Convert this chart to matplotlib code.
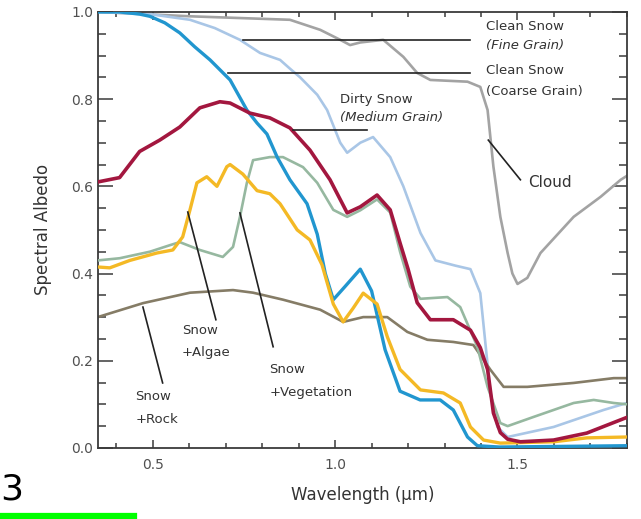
import matplotlib
matplotlib.use("Agg")
import matplotlib.pyplot as plt
from matplotlib.ticker import MultipleLocator

# Spectral albedo curves (wavelength in µm, albedo 0-1)
wl_cloud = [0.349, 0.602, 0.739, 0.876, 0.959, 1.014, 1.041, 1.069, 1.132, 1.187, 1.225, 1.261,
            1.363, 1.398, 1.418, 1.434, 1.453, 1.473, 1.486, 1.50, 1.527, 1.563, 1.654, 1.728, 1.783, 1.80]
alb_cloud = [1.0, 0.99, 0.986, 0.982, 0.959, 0.936, 0.924, 0.93, 0.936, 0.897, 0.86, 0.844,
             0.84, 0.828, 0.775, 0.645, 0.53, 0.447, 0.40, 0.376, 0.39, 0.447, 0.53, 0.576, 0.615, 0.624]

wl_fine = [0.349, 0.492, 0.602, 0.67, 0.739, 0.794, 0.849, 0.876, 0.904, 0.951, 0.978, 1.014,
           1.033, 1.069, 1.104, 1.151, 1.187, 1.234, 1.275, 1.33, 1.371, 1.398, 1.412, 1.426,
           1.445, 1.473, 1.599, 1.736, 1.80]
alb_fine = [1.0, 0.995, 0.982, 0.963, 0.936, 0.906, 0.89, 0.87, 0.85, 0.81, 0.775, 0.70,
            0.677, 0.70, 0.713, 0.667, 0.60, 0.493, 0.43, 0.418, 0.41, 0.355, 0.24, 0.126,
            0.048, 0.025, 0.048, 0.087, 0.103]

wl_coarse = [0.349, 0.409, 0.464, 0.492, 0.533, 0.574, 0.615, 0.657, 0.712, 0.758, 0.786, 0.813,
             0.841, 0.876, 0.923, 0.951, 0.973, 0.995, 1.027, 1.069, 1.10, 1.137, 1.178, 1.233,
             1.288, 1.324, 1.363, 1.39, 1.45, 1.80]
alb_coarse = [1.0, 1.0, 0.995, 0.99, 0.975, 0.952, 0.92, 0.89, 0.844, 0.775, 0.745, 0.72,
              0.667, 0.615, 0.56, 0.49, 0.40, 0.34, 0.37, 0.41, 0.36, 0.225, 0.13, 0.11,
              0.11, 0.087, 0.025, 0.005, 0.002, 0.005]

wl_dirty = [0.349, 0.409, 0.464, 0.519, 0.574, 0.629, 0.684, 0.712, 0.766, 0.821, 0.876, 0.931,
            0.986, 1.033, 1.069, 1.115, 1.151, 1.178, 1.20, 1.225, 1.261, 1.324, 1.371, 1.398,
            1.418, 1.434, 1.453, 1.473, 1.508, 1.599, 1.69, 1.80]
alb_dirty = [0.61, 0.62, 0.68, 0.706, 0.736, 0.78, 0.794, 0.791, 0.768, 0.757, 0.734, 0.683,
             0.615, 0.539, 0.553, 0.58, 0.546, 0.47, 0.41, 0.333, 0.294, 0.294, 0.27, 0.23,
             0.18, 0.08, 0.035, 0.02, 0.014, 0.018, 0.034, 0.07]

wl_veg = [0.349, 0.409, 0.492, 0.547, 0.574, 0.629, 0.692, 0.72, 0.739, 0.758, 0.775, 0.821,
          0.857, 0.912, 0.951, 0.995, 1.033, 1.069, 1.115, 1.151, 1.178, 1.206, 1.234, 1.308,
          1.343, 1.39, 1.418, 1.453, 1.473, 1.544, 1.654, 1.709, 1.764, 1.80]
alb_veg = [0.43, 0.435, 0.45, 0.465, 0.472, 0.454, 0.438, 0.461, 0.53, 0.608, 0.66, 0.667,
           0.667, 0.644, 0.608, 0.546, 0.53, 0.545, 0.57, 0.54, 0.45, 0.37, 0.342, 0.346,
           0.323, 0.232, 0.14, 0.057, 0.05, 0.071, 0.103, 0.11, 0.103, 0.10]

wl_algae = [0.349, 0.382, 0.437, 0.511, 0.555, 0.582, 0.602, 0.621, 0.648, 0.676, 0.703, 0.712,
            0.747, 0.786, 0.821, 0.849, 0.896, 0.931, 0.964, 0.995, 1.022, 1.049, 1.077, 1.115,
            1.143, 1.178, 1.234, 1.297, 1.343, 1.371, 1.407, 1.453, 1.599, 1.69, 1.80]
alb_algae = [0.415, 0.413, 0.43, 0.447, 0.454, 0.484, 0.546, 0.608, 0.622, 0.60, 0.645, 0.65,
             0.628, 0.59, 0.583, 0.56, 0.50, 0.477, 0.42, 0.33, 0.289, 0.32, 0.355, 0.33,
             0.255, 0.18, 0.133, 0.126, 0.103, 0.048, 0.018, 0.011, 0.014, 0.023, 0.025]

wl_rock = [0.349, 0.473, 0.602, 0.72, 0.775, 0.857, 0.959, 1.022, 1.077, 1.143, 1.198, 1.253,
           1.324, 1.379, 1.426, 1.462, 1.527, 1.654, 1.764, 1.80]
alb_rock = [0.30, 0.332, 0.356, 0.362, 0.356, 0.34, 0.317, 0.289, 0.30, 0.30, 0.266, 0.248,
            0.243, 0.236, 0.179, 0.14, 0.14, 0.149, 0.16, 0.16]

x_ticks = [0.5, 1.0, 1.5]
x_tick_labels = ["0.5", "1.0", "1.5"]
y_ticks = [0.0, 0.2, 0.4, 0.6, 0.8, 1.0]
y_tick_labels = ["0.0", "0.2", "0.4", "0.6", "0.8", "1.0"]

plt.rcParams["font.family"] = ["DejaVu Sans"]

fig = plt.figure(figsize=(6.41, 5.19), dpi=100)
ax = fig.add_axes([0.153, 0.137, 0.825, 0.840])

ax.plot(wl_cloud, alb_cloud, color="#a3a3a3", lw=1.9, zorder=2)
ax.plot(wl_fine, alb_fine, color="#a9c6e6", lw=1.9, zorder=2)
ax.plot(wl_rock, alb_rock, color="#857c66", lw=1.9, zorder=2)
ax.plot(wl_veg, alb_veg, color="#96b8a0", lw=1.9, zorder=3)
ax.plot(wl_coarse, alb_coarse, color="#2196cf", lw=2.4, zorder=4)
ax.plot(wl_algae, alb_algae, color="#f4b925", lw=2.4, zorder=4)
ax.plot(wl_dirty, alb_dirty, color="#a3173f", lw=2.6, zorder=5)

ax.set_xlim(0.35, 1.80)
ax.set_ylim(0.0, 1.0)
ax.set_xticks(x_ticks)
ax.set_xticklabels(x_tick_labels)
ax.set_yticks(y_ticks)
ax.set_yticklabels(y_tick_labels)
ax.xaxis.set_minor_locator(MultipleLocator(0.1))
ax.yaxis.set_minor_locator(MultipleLocator(0.05))

spine_col = "#3a3a3a"
for s in ax.spines.values():
    s.set_color(spine_col)
    s.set_linewidth(1.3)
ax.tick_params(axis="both", which="both", direction="in", top=True, right=True,
               color=spine_col, width=1.1, labelcolor="#505050", labelsize=10)
ax.tick_params(axis="y", which="major", length=10.5)
ax.tick_params(axis="y", which="minor", length=5.5)
ax.tick_params(axis="x", which="major", length=6)
ax.tick_params(axis="x", which="minor", length=3.5)
ax.tick_params(axis="x", which="major", pad=7)

ax.set_xlabel("Wavelength (µm)", fontsize=12, color="#333333", labelpad=10)
ax.set_ylabel("Spectral Albedo", fontsize=12, color="#333333", labelpad=14)

lab = dict(fontsize=9.5, color="#333333", va="center", ha="left")
lead = dict(color="#222222", lw=1.2, zorder=6)

# Clean snow, fine grain
ax.plot([0.747, 1.371], [0.936, 0.936], **lead)
ax.text(1.415, 0.966, "Clean Snow", **lab)
ax.text(1.415, 0.922, "(Fine Grain)", style="italic", **lab)
# Clean snow, coarse grain
ax.plot([0.706, 1.371], [0.86, 0.86], **lead)
ax.text(1.415, 0.865, "Clean Snow", **lab)
ax.text(1.415, 0.817, "(Coarse Grain)", **lab)
# Dirty snow
ax.plot([0.885, 1.088], [0.729, 0.729], **lead)
ax.text(1.014, 0.80, "Dirty Snow", **lab)
ax.text(1.014, 0.757, "(Medium Grain)", style="italic", **lab)
# Cloud
ax.plot([1.42, 1.508], [0.706, 0.615], **lead)
ax.text(1.53, 0.608, "Cloud", fontsize=11, color="#333333", va="center", ha="left")
# Snow + algae
ax.plot([0.596, 0.673], [0.541, 0.294], **lead)
ax.text(0.58, 0.27, "Snow", **lab)
ax.text(0.58, 0.218, "+Algae", **lab)
# Snow + vegetation
ax.plot([0.739, 0.83], [0.539, 0.232], **lead)
ax.text(0.82, 0.179, "Snow", **lab)
ax.text(0.82, 0.126, "+Vegetation", **lab)
# Snow + rock
ax.plot([0.473, 0.527], [0.323, 0.149], **lead)
ax.text(0.452, 0.117, "Snow", **lab)
ax.text(0.452, 0.064, "+Rock", **lab)

# Slide number with accent bar
fig.text(0.001, 0.025, "3", fontsize=26, color="black", ha="left", va="bottom")
fig.add_artist(plt.Line2D([0.0, 0.209], [0.006, 0.006], color="#00ff00", lw=4.5,
                          transform=fig.transFigure))

fig.savefig("out.png", dpi=100)
